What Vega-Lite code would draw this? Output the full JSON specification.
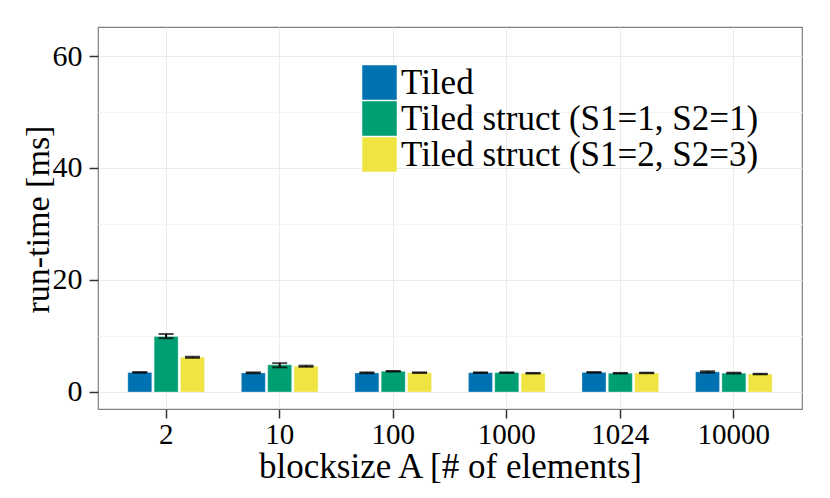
{
  "$schema": "https://vega.github.io/schema/vega-lite/v6.json",
  "width": 704,
  "height": 382,
  "autosize": "none",
  "padding": {"left": 98, "top": 27, "right": 28, "bottom": 89},
  "background": "white",
  "config": {
    "font": "Liberation Serif",
    "view": {"stroke": "#7f7f7f", "strokeWidth": 1.2}
  },
  "data": {
    "values": [
      {"block": "2", "variant": "Tiled", "mean": 3.5, "lo": 3.45, "hi": 3.55},
      {"block": "2", "variant": "Tiled struct (S1=1, S2=1)", "mean": 9.9, "lo": 9.6, "hi": 10.35},
      {"block": "2", "variant": "Tiled struct (S1=2, S2=3)", "mean": 6.2, "lo": 6.1, "hi": 6.3},
      {"block": "10", "variant": "Tiled", "mean": 3.4, "lo": 3.35, "hi": 3.5},
      {"block": "10", "variant": "Tiled struct (S1=1, S2=1)", "mean": 4.85, "lo": 4.4, "hi": 5.15},
      {"block": "10", "variant": "Tiled struct (S1=2, S2=3)", "mean": 4.6, "lo": 4.5, "hi": 4.7},
      {"block": "100", "variant": "Tiled", "mean": 3.4, "lo": 3.35, "hi": 3.5},
      {"block": "100", "variant": "Tiled struct (S1=1, S2=1)", "mean": 3.7, "lo": 3.65, "hi": 3.75},
      {"block": "100", "variant": "Tiled struct (S1=2, S2=3)", "mean": 3.45, "lo": 3.4, "hi": 3.5},
      {"block": "1000", "variant": "Tiled", "mean": 3.45, "lo": 3.4, "hi": 3.5},
      {"block": "1000", "variant": "Tiled struct (S1=1, S2=1)", "mean": 3.45, "lo": 3.4, "hi": 3.5},
      {"block": "1000", "variant": "Tiled struct (S1=2, S2=3)", "mean": 3.35, "lo": 3.3, "hi": 3.4},
      {"block": "1024", "variant": "Tiled", "mean": 3.5, "lo": 3.45, "hi": 3.55},
      {"block": "1024", "variant": "Tiled struct (S1=1, S2=1)", "mean": 3.35, "lo": 3.3, "hi": 3.4},
      {"block": "1024", "variant": "Tiled struct (S1=2, S2=3)", "mean": 3.4, "lo": 3.35, "hi": 3.45},
      {"block": "10000", "variant": "Tiled", "mean": 3.6, "lo": 3.45, "hi": 3.7},
      {"block": "10000", "variant": "Tiled struct (S1=1, S2=1)", "mean": 3.35, "lo": 3.3, "hi": 3.45},
      {"block": "10000", "variant": "Tiled struct (S1=2, S2=3)", "mean": 3.2, "lo": 3.15, "hi": 3.25}
    ]
  },
  "encoding": {
    "x": {
      "field": "block",
      "type": "nominal",
      "sort": ["2", "10", "100", "1000", "1024", "10000"],
      "scale": {"paddingInner": 0.325, "paddingOuter": 0.2625},
      "axis": {
        "title": "blocksize A [# of elements]",
        "labelAngle": 0,
        "labelFontSize": 29,
        "labelColor": "black",
        "labelPadding": 2,
        "tickSize": 9,
        "tickColor": "#333333",
        "tickWidth": 1.5,
        "domain": false,
        "grid": true,
        "gridColor": "#ebebeb",
        "titleFontSize": 35,
        "titleFontWeight": "normal",
        "titleColor": "black",
        "titleBaseline": "alphabetic",
        "titleY": 68
      }
    },
    "xOffset": {
      "field": "variant",
      "type": "nominal",
      "scale": {"paddingInner": 0.09, "paddingOuter": 0}
    }
  },
  "layer": [
    {
      "mark": {"type": "bar", "stroke": "white", "strokeOpacity": 0.5, "strokeWidth": 0.6},
      "encoding": {
        "y": {
          "field": "mean",
          "type": "quantitative",
          "scale": {"domain": [-3.04, 65.18], "nice": false, "zero": false},
          "axis": {
            "title": "run-time [ms]",
            "values": [0, 10, 20, 30, 40, 50, 60],
            "labelExpr": "datum.value % 20 == 0 ? datum.label : ''",
            "labelFontSize": 30,
            "labelColor": "black",
            "labelPadding": 7,
            "tickSize": 9,
            "tickColor": "#333333",
            "tickWidth": 1.5,
            "tickOpacity": {"condition": {"test": "datum.value % 20 == 0", "value": 1}, "value": 0},
            "domain": false,
            "grid": true,
            "gridColor": {"condition": {"test": "datum.value % 20 == 0", "value": "#ebebeb"}, "value": "#f4f4f4"},
            "titleFontSize": 34,
            "titleFontWeight": "normal",
            "titleColor": "black",
            "titleAngle": -90,
            "titleBaseline": "middle",
            "titleAlign": "center",
            "titleX": -60,
            "titleY": 192
          }
        },
        "y2": {"datum": 0},
        "color": {
          "field": "variant",
          "type": "nominal",
          "scale": {
            "domain": ["Tiled", "Tiled struct (S1=1, S2=1)", "Tiled struct (S1=2, S2=3)"],
            "range": ["#0072B2", "#009E73", "#F0E442"]
          },
          "legend": {
            "title": null,
            "orient": "none",
            "legendX": 264,
            "legendY": 38,
            "padding": 0,
            "symbolType": "square",
            "symbolSize": 1190,
            "symbolStrokeWidth": 0,
            "symbolOpacity": 1,
            "rowPadding": 0,
            "labelFontSize": 35,
            "labelColor": "black",
            "labelOffset": 4,
            "labelLimit": 500
          }
        }
      }
    },
    {
      "mark": {"type": "rule", "color": "black", "strokeWidth": 2},
      "encoding": {
        "y": {"field": "lo", "type": "quantitative"},
        "y2": {"field": "hi"}
      }
    },
    {
      "mark": {"type": "tick", "color": "black", "thickness": 2, "size": 15},
      "encoding": {
        "y": {"field": "lo", "type": "quantitative"}
      }
    },
    {
      "mark": {"type": "tick", "color": "black", "thickness": 2, "size": 15},
      "encoding": {
        "y": {"field": "hi", "type": "quantitative"}
      }
    }
  ]
}
